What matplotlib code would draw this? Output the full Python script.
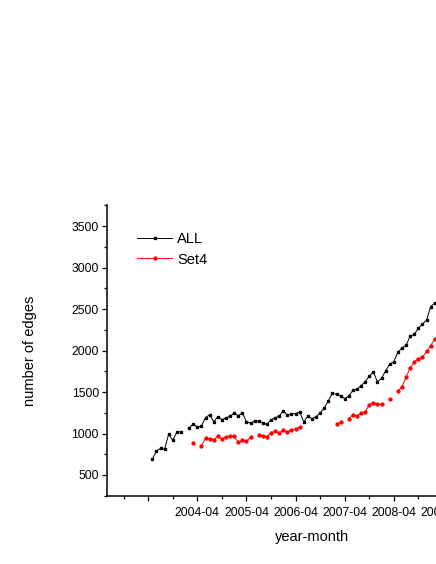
import numpy as np
import matplotlib
matplotlib.use("Agg")
import matplotlib.pyplot as plt

plt.rcParams['font.family'] = ['Liberation Sans', 'DejaVu Sans']

nan = np.nan
# monthly values, starting 2003-05 (month index 1 = 2003-05, 0 = 2003-04)
all_edges = [689, 789, 822, 810, 994, 918, 1019, 1019, nan, 1067,
             1119, 1075, 1091, 1191, 1227, 1143, 1203, 1167, 1187, 1211,
             1244, 1215, 1248, 1143, 1123, 1151, 1151, 1127, 1111, 1167,
             1191, 1208, 1276, 1220, 1240, 1240, 1260, 1139, 1211, 1179,
             1203, 1248, 1308, 1396, 1485, 1473, 1457, 1420, 1453, 1521,
             1533, 1577, 1625, 1690, 1746, 1622, 1666, 1758, 1835, 1867,
             1980, 2032, 2064, 2173, 2197, 2269, 2321, 2369, 2530, 2574]
set4_edges = [nan, nan, nan, nan, nan, nan, nan, nan, nan, nan,
              890, nan, 854, 943, 934, 926, 967, 934, 958, 967,
              967, 894, 922, 906, 958, nan, 982, 970, 962, 1006,
              1031, 1010, 1039, 1019, 1047, 1055, 1075, nan, nan, nan,
              nan, nan, nan, nan, nan, 1111, 1136, nan, 1179, 1227,
              1211, 1248, 1260, 1344, 1372, 1352, 1352, nan, 1420, nan,
              1509, 1565, 1678, 1794, 1863, 1903, 1919, 1992, 2060, 2140]
months = np.arange(1, len(all_edges) + 1)

tick_months = [0, 12, 24, 36, 48, 60, 72, 84]
tick_labels = ['', '2004-04', '2005-04', '2006-04', '2007-04', '2008-04', '2009-04', '2010-04']
y_ticks = [500, 1000, 1500, 2000, 2500, 3000, 3500]

W, H = 436, 564
fig = plt.figure(figsize=(W / 100, H / 100), dpi=100)
ax = fig.add_axes([107.3 / W, (H - 495.7) / H, 409.3 / W, 290.2 / H])

ax.plot(months, all_edges, color='black', lw=0.7, marker='s', ms=1.7,
        mec='black', mfc='black', label='ALL')
ax.plot(months, set4_edges, color='#ff0000', lw=0.7, marker='o', ms=2.1,
        mec='#ff0000', mfc='#ff0000', label='Set4')

ax.set_xlim(-10, 90)
ax.set_ylim(250, 3750)
ax.set_xticks(tick_months)
ax.set_xticklabels(tick_labels)
ax.set_xticks(np.arange(-6, 90, 12), minor=True)
ax.set_yticks(y_ticks)
ax.set_yticks(np.arange(250, 3751, 250), minor=True)

for s in ['top', 'right']:
    ax.spines[s].set_visible(False)
for s in ['left', 'bottom']:
    ax.spines[s].set_linewidth(1.1)

ax.tick_params(axis='both', which='major', direction='out', length=3.5, width=0.9,
               labelsize=8.8)
ax.tick_params(axis='both', which='minor', direction='out', length=2.0, width=0.9)
ax.tick_params(axis='x', which='major', pad=4.5)
ax.tick_params(axis='y', which='major', pad=2.5)

fig.text(311.7 / W, 1 - 536.7 / H, 'year-month', ha='center', va='center', fontsize=10.5)
fig.text(30 / W, 1 - 351.2 / H, 'number of edges', ha='center', va='center',
         rotation=90, fontsize=10.5)

leg = ax.legend(loc='upper left', bbox_to_anchor=(137 / W, 1 - 232 / H),
                bbox_transform=fig.transFigure, frameon=False, fontsize=10.5,
                handlelength=2.4, handletextpad=0.35, labelspacing=0.45,
                borderpad=0, borderaxespad=0)

fig.savefig('out.png', dpi=100)
